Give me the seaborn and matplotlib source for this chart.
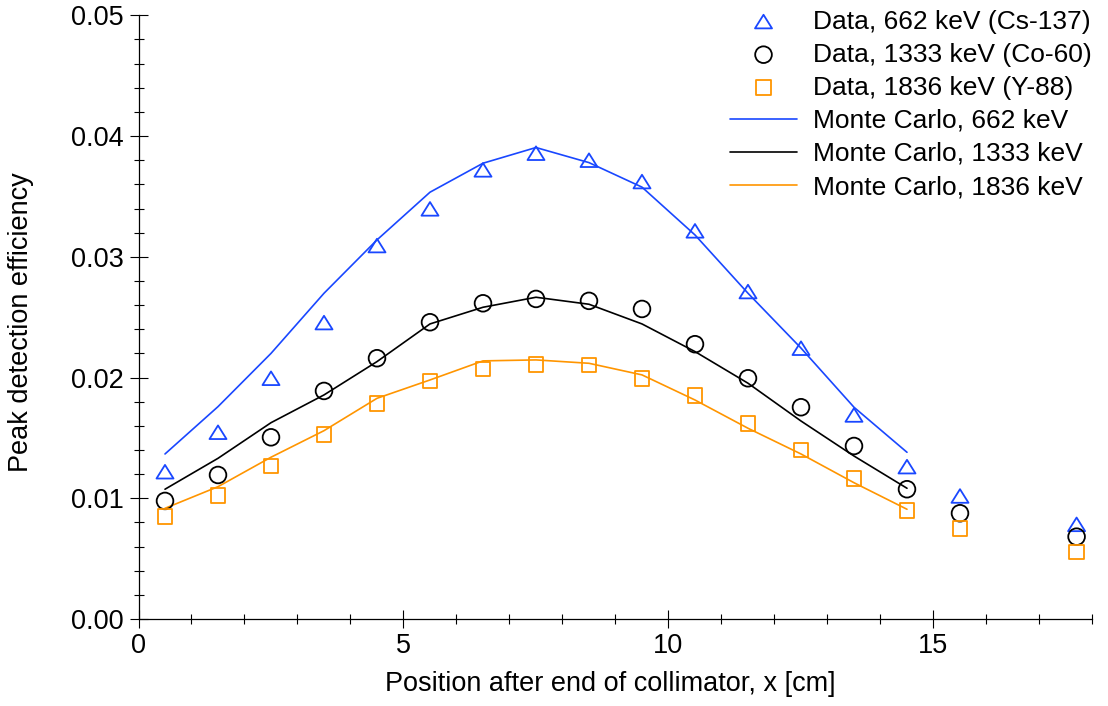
import matplotlib
matplotlib.use("Agg")
import matplotlib.pyplot as plt
from matplotlib.ticker import MultipleLocator, FormatStrFormatter
from matplotlib.path import Path
import seaborn as sns
import pandas as pd

# ---- data ----
x_data = [0.5, 1.5, 2.5, 3.5, 4.5, 5.5, 6.5, 7.5, 8.5, 9.5, 10.5, 11.5, 12.5, 13.5, 14.5, 15.5, 17.7]
data_662 = [0.0122, 0.01547, 0.01994, 0.02455, 0.03093, 0.03397, 0.0372, 0.03858, 0.0380, 0.03623,
            0.03215, 0.02712, 0.02243, 0.0169, 0.01262, 0.01019, 0.00784]
data_1333 = [0.00978, 0.01193, 0.01505, 0.01889, 0.0216, 0.02458, 0.02615, 0.02651, 0.02635, 0.02568,
             0.02276, 0.01994, 0.01754, 0.01433, 0.01075, 0.00876, 0.00682]
data_1836 = [0.00848, 0.01022, 0.01268, 0.0153, 0.01787, 0.01972, 0.02069, 0.0211, 0.02104, 0.01994,
             0.0185, 0.01621, 0.014, 0.01166, 0.00897, 0.00751, 0.00555]

x_mc = [0.5, 1.5, 2.5, 3.5, 4.5, 5.5, 6.5, 7.5, 8.5, 9.5, 10.5, 11.5, 12.5, 13.5, 14.5]
mc_662 = [0.01367, 0.01759, 0.022, 0.02698, 0.0314, 0.03535, 0.03775, 0.03905, 0.0378, 0.03577,
          0.03181, 0.02698, 0.02244, 0.01754, 0.01381]
mc_1333 = [0.01075, 0.01331, 0.01626, 0.01856, 0.02132, 0.02444, 0.02582, 0.02665, 0.02607, 0.02444,
           0.02215, 0.01953, 0.0164, 0.0135, 0.01083]
mc_1836 = [0.00917, 0.01096, 0.0134, 0.0156, 0.01828, 0.0198, 0.02138, 0.02146, 0.02118, 0.02022,
           0.01814, 0.0158, 0.01367, 0.01129, 0.00909]

data_labels = ["Data, 662 keV (Cs-137)", "Data, 1333 keV (Co-60)", "Data, 1836 keV (Y-88)"]
mc_labels = ["Monte Carlo, 662 keV", "Monte Carlo, 1333 keV", "Monte Carlo, 1836 keV"]
x_ticks = [0, 5, 10, 15]
y_ticks = [0.00, 0.01, 0.02, 0.03, 0.04, 0.05]

# ---- style ----
sns.set_theme(style="ticks")
plt.rcParams["font.family"] = ["Liberation Sans", "DejaVu Sans"]
for k in ["text.color", "axes.labelcolor", "xtick.color", "ytick.color", "axes.edgecolor"]:
    plt.rcParams[k] = "black"
FS = 19.5
LFS = 19

BLUE = "#1947ff"
BLACK = "#000000"
ORANGE = "#ff9500"
colors = [BLUE, BLACK, ORANGE]
tri = Path([(-1, -0.8), (1, -0.8), (0, 0.8), (-1, -0.8)],
           [Path.MOVETO, Path.LINETO, Path.LINETO, Path.CLOSEPOLY])
markers = [tri, "o", "s"]
sizes = [150, 144, 110]

fig = plt.figure(figsize=(11.08, 7.06), dpi=100)
ax = fig.add_axes([0.125, 0.1232, 0.861, 0.8551])

data_series = [data_662, data_1333, data_1836]
mc_series = [mc_662, mc_1333, mc_1836]

for ys, lab, c in zip(mc_series, mc_labels, colors):
    df = pd.DataFrame({"x": x_mc, "y": ys})
    sns.lineplot(data=df, x="x", y="y", ax=ax, color=c, linewidth=1.2, label=lab, sort=False)

for ys, lab, c, m, s in zip(data_series, data_labels, colors, markers, sizes):
    df = pd.DataFrame({"x": x_data, "y": ys})
    sns.scatterplot(data=df, x="x", y="y", ax=ax, marker=m, s=s, facecolors="none",
                    edgecolor=c, linewidth=1.3, label=lab, zorder=3)

ax.set_xlim(0, 18)
ax.set_ylim(0, 0.05)
ax.set_xticks(x_ticks)
ax.set_yticks(y_ticks)
ax.xaxis.set_minor_locator(MultipleLocator(1))
ax.yaxis.set_minor_locator(MultipleLocator(0.002))
ax.yaxis.set_major_formatter(FormatStrFormatter("%.2f"))

for sp in ["top", "right"]:
    ax.spines[sp].set_visible(False)
for sp in ["left", "bottom"]:
    ax.spines[sp].set_linewidth(0.9)
    ax.spines[sp].set_color("black")

ax.tick_params(which="major", direction="inout", length=12.7, width=0.8, colors="black",
               labelsize=FS, pad=4)
ax.tick_params(which="minor", direction="inout", length=7.2, width=0.8, colors="black")

ax.set_xlabel("Position after end of collimator, x [cm]", fontsize=FS, color="black")
ax.set_ylabel("Peak detection efficiency", fontsize=FS, color="black")
ax.xaxis.set_label_coords(0.494, -0.086)
ax.yaxis.set_label_coords(-0.110, 0.492)

handles, labels = ax.get_legend_handles_labels()
order = data_labels + mc_labels
hmap = dict(zip(labels, handles))
leg = ax.legend([hmap[l] for l in order], order, loc="upper left",
                bbox_to_anchor=(730 / 1108, 1 - 9.5 / 706), bbox_transform=fig.transFigure,
                frameon=False, fontsize=LFS, handlelength=2.54, handletextpad=0.6,
                labelspacing=0.345, borderpad=0, borderaxespad=0)
for t in leg.get_texts():
    t.set_color("black")

fig.savefig("out.png", dpi=100)
